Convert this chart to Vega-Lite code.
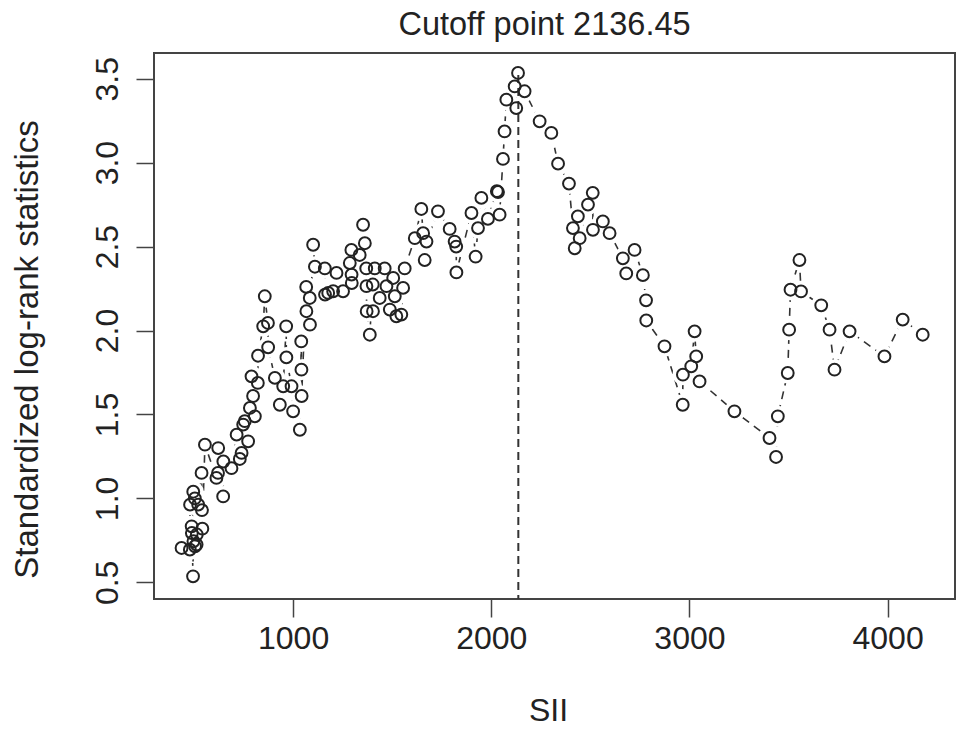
{
  "$schema": "https://vega.github.io/schema/vega-lite/v6.json",
  "width": 801,
  "height": 546,
  "autosize": {"type": "none"},
  "padding": {"left": 154, "top": 53, "right": 14, "bottom": 133},
  "background": "white",
  "config": {
    "view": {"stroke": "#444", "strokeWidth": 2},
    "font": "Liberation Sans"
  },
  "title": {
    "text": "Cutoff point 2136.45",
    "font": "Liberation Sans",
    "fontSize": 32.5,
    "fontWeight": "normal",
    "color": "#222",
    "anchor": "middle",
    "frame": "group",
    "baseline": "alphabetic",
    "offset": 18,
    "dy": 32,
    "dx": -10
  },
  "data": {
    "values": [
      {"SII": 437, "stat": 0.705},
      {"SII": 479, "stat": 0.695},
      {"SII": 480, "stat": 0.963},
      {"SII": 488, "stat": 0.834},
      {"SII": 489, "stat": 0.794},
      {"SII": 495, "stat": 0.536},
      {"SII": 496, "stat": 1.04},
      {"SII": 497, "stat": 0.745},
      {"SII": 504, "stat": 1.0},
      {"SII": 505, "stat": 0.715},
      {"SII": 513, "stat": 0.725},
      {"SII": 514, "stat": 0.785},
      {"SII": 521, "stat": 0.963},
      {"SII": 538, "stat": 1.152},
      {"SII": 540, "stat": 0.93},
      {"SII": 542, "stat": 0.82},
      {"SII": 555, "stat": 1.32},
      {"SII": 613, "stat": 1.122},
      {"SII": 621, "stat": 1.152},
      {"SII": 622, "stat": 1.3},
      {"SII": 647, "stat": 1.012},
      {"SII": 648, "stat": 1.22},
      {"SII": 689, "stat": 1.18},
      {"SII": 715, "stat": 1.38},
      {"SII": 731, "stat": 1.235},
      {"SII": 740, "stat": 1.271},
      {"SII": 748, "stat": 1.44},
      {"SII": 756, "stat": 1.46},
      {"SII": 773, "stat": 1.34},
      {"SII": 782, "stat": 1.539},
      {"SII": 790, "stat": 1.727},
      {"SII": 798, "stat": 1.61},
      {"SII": 807, "stat": 1.489},
      {"SII": 822, "stat": 1.688},
      {"SII": 823, "stat": 1.85},
      {"SII": 849, "stat": 2.025},
      {"SII": 857, "stat": 2.204},
      {"SII": 873, "stat": 2.045},
      {"SII": 874, "stat": 1.9},
      {"SII": 908, "stat": 1.718},
      {"SII": 933, "stat": 1.558},
      {"SII": 950, "stat": 1.668},
      {"SII": 965, "stat": 2.025},
      {"SII": 966, "stat": 1.84},
      {"SII": 992, "stat": 1.668},
      {"SII": 1000, "stat": 1.519},
      {"SII": 1034, "stat": 1.409},
      {"SII": 1041, "stat": 1.935},
      {"SII": 1042, "stat": 1.767},
      {"SII": 1043, "stat": 1.61},
      {"SII": 1066, "stat": 2.26},
      {"SII": 1067, "stat": 2.115},
      {"SII": 1084, "stat": 2.194},
      {"SII": 1085, "stat": 2.035},
      {"SII": 1101, "stat": 2.511},
      {"SII": 1110, "stat": 2.38},
      {"SII": 1160, "stat": 2.37},
      {"SII": 1161, "stat": 2.214},
      {"SII": 1177, "stat": 2.224},
      {"SII": 1202, "stat": 2.234},
      {"SII": 1219, "stat": 2.343},
      {"SII": 1252, "stat": 2.234},
      {"SII": 1286, "stat": 2.402},
      {"SII": 1294, "stat": 2.48},
      {"SII": 1295, "stat": 2.333},
      {"SII": 1296, "stat": 2.283},
      {"SII": 1336, "stat": 2.45},
      {"SII": 1353, "stat": 2.63},
      {"SII": 1362, "stat": 2.52},
      {"SII": 1369, "stat": 2.37},
      {"SII": 1370, "stat": 2.264},
      {"SII": 1371, "stat": 2.115},
      {"SII": 1387, "stat": 1.975},
      {"SII": 1402, "stat": 2.274},
      {"SII": 1403, "stat": 2.115},
      {"SII": 1412, "stat": 2.37},
      {"SII": 1437, "stat": 2.194},
      {"SII": 1462, "stat": 2.37},
      {"SII": 1471, "stat": 2.264},
      {"SII": 1488, "stat": 2.125},
      {"SII": 1505, "stat": 2.313},
      {"SII": 1513, "stat": 2.204},
      {"SII": 1521, "stat": 2.085},
      {"SII": 1546, "stat": 2.095},
      {"SII": 1555, "stat": 2.254},
      {"SII": 1563, "stat": 2.37},
      {"SII": 1614, "stat": 2.55},
      {"SII": 1647, "stat": 2.724},
      {"SII": 1656, "stat": 2.58},
      {"SII": 1664, "stat": 2.42},
      {"SII": 1673, "stat": 2.53},
      {"SII": 1731, "stat": 2.71},
      {"SII": 1790, "stat": 2.605},
      {"SII": 1815, "stat": 2.53},
      {"SII": 1823, "stat": 2.5},
      {"SII": 1824, "stat": 2.346},
      {"SII": 1900, "stat": 2.7},
      {"SII": 1921, "stat": 2.44},
      {"SII": 1933, "stat": 2.61},
      {"SII": 1950, "stat": 2.79},
      {"SII": 1983, "stat": 2.665},
      {"SII": 2028, "stat": 2.83},
      {"SII": 2034, "stat": 2.825},
      {"SII": 2042, "stat": 2.69},
      {"SII": 2059, "stat": 3.022},
      {"SII": 2067, "stat": 3.186},
      {"SII": 2076, "stat": 3.375},
      {"SII": 2118, "stat": 3.454},
      {"SII": 2126, "stat": 3.325},
      {"SII": 2135, "stat": 3.534},
      {"SII": 2168, "stat": 3.425},
      {"SII": 2244, "stat": 3.246},
      {"SII": 2303, "stat": 3.177},
      {"SII": 2337, "stat": 2.994},
      {"SII": 2392, "stat": 2.875},
      {"SII": 2412, "stat": 2.61},
      {"SII": 2421, "stat": 2.49},
      {"SII": 2437, "stat": 2.68},
      {"SII": 2446, "stat": 2.55},
      {"SII": 2488, "stat": 2.75},
      {"SII": 2512, "stat": 2.82},
      {"SII": 2513, "stat": 2.6},
      {"SII": 2563, "stat": 2.65},
      {"SII": 2597, "stat": 2.58},
      {"SII": 2664, "stat": 2.43},
      {"SII": 2681, "stat": 2.34},
      {"SII": 2723, "stat": 2.48},
      {"SII": 2765, "stat": 2.33},
      {"SII": 2781, "stat": 2.18},
      {"SII": 2782, "stat": 2.06},
      {"SII": 2874, "stat": 1.906},
      {"SII": 2966, "stat": 1.558},
      {"SII": 2967, "stat": 1.737},
      {"SII": 3009, "stat": 1.787},
      {"SII": 3026, "stat": 1.995},
      {"SII": 3034, "stat": 1.846},
      {"SII": 3051, "stat": 1.697},
      {"SII": 3227, "stat": 1.519},
      {"SII": 3404, "stat": 1.36},
      {"SII": 3437, "stat": 1.247},
      {"SII": 3446, "stat": 1.489},
      {"SII": 3496, "stat": 1.747},
      {"SII": 3503, "stat": 2.005},
      {"SII": 3510, "stat": 2.243},
      {"SII": 3555, "stat": 2.42},
      {"SII": 3563, "stat": 2.233},
      {"SII": 3665, "stat": 2.15},
      {"SII": 3707, "stat": 2.005},
      {"SII": 3732, "stat": 1.767},
      {"SII": 3808, "stat": 1.995},
      {"SII": 3984, "stat": 1.846},
      {"SII": 4076, "stat": 2.065},
      {"SII": 4177, "stat": 1.975}
    ]
  },
  "encoding": {
    "x": {
      "field": "SII",
      "type": "quantitative",
      "scale": {"domain": [298, 4340], "nice": false, "zero": false},
      "axis": {
        "values": [1000, 2000, 3000, 4000],
        "format": "d",
        "grid": false,
        "domain": false,
        "labelFont": "Liberation Sans",
        "labelFontSize": 32,
        "labelColor": "#222",
        "labelPadding": 6,
        "labelFlush": false,
        "labelOverlap": false,
        "tickSize": 18,
        "tickWidth": 1.5,
        "tickColor": "#444",
        "title": "SII",
        "titleFont": "Liberation Sans",
        "titleFontSize": 32,
        "titleFontWeight": "normal",
        "titleColor": "#222",
        "titleX": 394,
        "titleY": 121,
        "titleAlign": "center",
        "titleBaseline": "alphabetic"
      }
    },
    "y": {
      "field": "stat",
      "type": "quantitative",
      "scale": {"domain": [0.401, 3.653], "nice": false, "zero": false},
      "axis": {
        "values": [0.5, 1.0, 1.5, 2.0, 2.5, 3.0, 3.5],
        "format": ".1f",
        "grid": false,
        "domain": false,
        "labelFont": "Liberation Sans",
        "labelFontSize": 32,
        "labelColor": "#222",
        "labelAngle": 270,
        "labelAlign": "center",
        "labelBaseline": "alphabetic",
        "labelPadding": 19,
        "labelFlush": false,
        "labelOverlap": false,
        "tickSize": 18,
        "tickWidth": 1.5,
        "tickColor": "#444",
        "title": "Standardized log-rank statistics",
        "titleFont": "Liberation Sans",
        "titleFontSize": 33,
        "titleFontWeight": "normal",
        "titleColor": "#222",
        "titleAngle": 270,
        "titleX": -117,
        "titleY": 296,
        "titleAlign": "center",
        "titleBaseline": "alphabetic"
      }
    }
  },
  "layer": [
    {
      "mark": {"type": "line", "color": "#333", "strokeWidth": 1.6, "strokeDash": [8, 6], "clip": true}
    },
    {
      "mark": {"type": "point", "shape": "circle", "filled": true, "fill": "white", "strokeWidth": 0, "size": 440, "opacity": 1, "clip": true}
    },
    {
      "data": {"values": [{"SII": 2136.45, "stat": 0.3, "stat2": 3.534}]},
      "mark": {"type": "rule", "color": "#333", "strokeWidth": 2, "strokeDash": [8, 5], "clip": true},
      "encoding": {"y2": {"field": "stat2"}}
    },
    {
      "mark": {"type": "point", "shape": "circle", "filled": false, "stroke": "#222", "strokeWidth": 2, "size": 140, "opacity": 1, "clip": true}
    }
  ]
}
